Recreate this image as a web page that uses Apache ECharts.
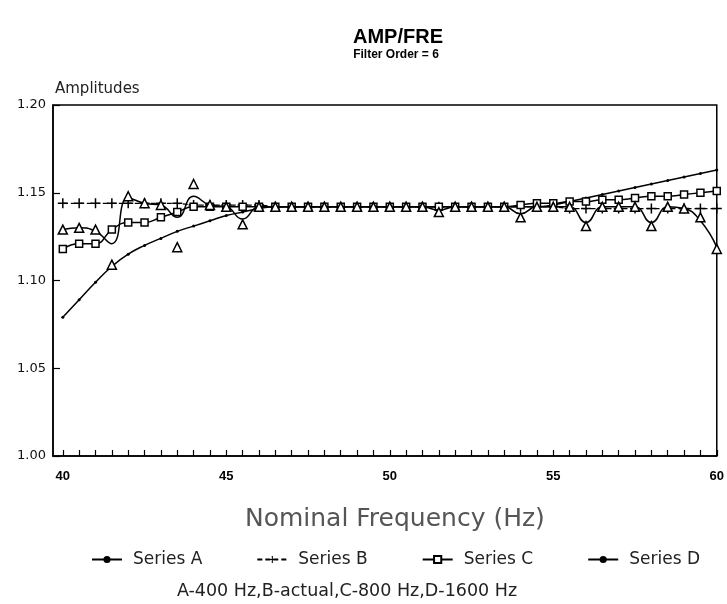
<!DOCTYPE html>
<html>
<head>
<meta charset="utf-8">
<script src="https://cdn.jsdelivr.net/npm/echarts@6/dist/echarts.min.js"></script>
<style>html,body{margin:0;padding:0;background:#fff;}#c{width:727px;height:604px;}</style>
</head>
<body>
<div id="c"></div>
<script>
// Frequencies (Hz)
const freq = [40,40.5,41,41.5,42,42.5,43,43.5,44,44.5,45,45.5,46,46.5,47,47.5,48,48.5,49,49.5,50,50.5,51,51.5,52,52.5,53,53.5,54,54.5,55,55.5,56,56.5,57,57.5,58,58.5,59,59.5,60];
// Series A – 400 Hz
const seriesA = [1.079,1.089,1.099,1.108,1.115,1.120,1.124,1.128,1.131,1.134,1.137,1.139,1.141,1.142,1.142,1.142,1.142,1.142,1.142,1.142,1.142,1.142,1.142,1.142,1.142,1.142,1.142,1.142,1.142,1.142,1.143,1.145,1.147,1.149,1.151,1.153,1.155,1.157,1.159,1.161,1.163];
// Series B – actual
const seriesB = [1.144,1.144,1.144,1.144,1.144,1.144,1.144,1.144,1.143,1.143,1.143,1.143,1.143,1.142,1.142,1.142,1.142,1.142,1.142,1.142,1.142,1.142,1.142,1.142,1.142,1.142,1.142,1.142,1.142,1.142,1.142,1.141,1.141,1.141,1.141,1.141,1.141,1.141,1.141,1.141,1.141];
// Series C – 800 Hz
const seriesC = [1.118,1.121,1.121,1.129,1.133,1.133,1.136,1.139,1.142,1.142,1.142,1.142,1.142,1.142,1.142,1.142,1.142,1.142,1.142,1.142,1.142,1.142,1.142,1.142,1.142,1.142,1.142,1.142,1.143,1.144,1.144,1.145,1.145,1.146,1.146,1.147,1.148,1.148,1.149,1.150,1.151];
// Series D – 1600 Hz: plotted markers (triangles)
const seriesD = [1.129,1.130,1.129,1.109,1.148,1.144,1.143,1.119,1.155,1.143,1.142,1.132,1.142,1.142,1.142,1.142,1.142,1.142,1.142,1.142,1.142,1.142,1.142,1.139,1.142,1.142,1.142,1.142,1.136,1.142,1.142,1.142,1.131,1.142,1.142,1.142,1.131,1.142,1.141,1.136,1.118];
// Series D – fitted curve drawn through the markers
const seriesDCurve = [1.129,1.130,1.128,1.121,1.147,1.144,1.143,1.136,1.148,1.143,1.142,1.135,1.142,1.142,1.142,1.142,1.142,1.142,1.142,1.142,1.142,1.142,1.142,1.140,1.142,1.142,1.142,1.142,1.138,1.142,1.142,1.142,1.133,1.142,1.142,1.142,1.133,1.142,1.141,1.134,1.119];
// Axis ticks / labels
const xLabelValues = [40,45,50,55,60];
const xTickValues = freq;
const seriesNames = ['Series A','Series B','Series C','Series D'];

const pair = (ys) => freq.map((f, i) => [f, ys[i]]);
const FONT = '"Liberation Sans", Arial, sans-serif';
const WIDE = '"DejaVu Sans", sans-serif';
const plusPath = 'path://M8.5,0H11.5V8.5H20V11.5H11.5V20H8.5V11.5H0V8.5H8.5Z';

const chart = echarts.init(document.getElementById('c'), null, {renderer: 'canvas'});
chart.setOption({
  animation: false,
  backgroundColor: '#fff',
  title: [
    {text: 'AMP/FRE', left: 393, top: 22, textAlign: 'center',
     textStyle: {fontFamily: FONT, fontSize: 20, fontWeight: 'bold', color: '#000'}},
    {text: 'Filter Order = 6', left: 391, top: 44, textAlign: 'center',
     textStyle: {fontFamily: FONT, fontSize: 12, fontWeight: 'bold', color: '#000'}},
    {text: 'A-400 Hz,B-actual,C-800 Hz,D-1600 Hz', left: 342, top: 577, textAlign: 'center',
     textStyle: {fontFamily: WIDE, fontSize: 17.5, fontWeight: 'normal', color: '#222'}}
  ],
  grid: {left: 53, right: 9, top: 105, bottom: 148, show: true, borderColor: '#000', borderWidth: 1.5, backgroundColor: 'transparent'},
  legend: {
    data: seriesNames, left: 86, top: 546, itemGap: 54, itemWidth: 30, itemHeight: 9,
    textStyle: {fontFamily: WIDE, fontSize: 17, color: '#222', padding: [0, 0, 0, 6]}
  },
  xAxis: {
    type: 'value', min: 39.7, max: 60,
    name: 'Nominal Frequency (Hz)', nameLocation: 'middle', nameGap: 51,
    nameTextStyle: {fontFamily: WIDE, fontSize: 25, color: '#555', padding: [0, 0, 0, 20]},
    axisLine: {show: true, lineStyle: {color: '#000', width: 1.5}},
    axisTick: {show: true, inside: true, length: 6, customValues: xTickValues, lineStyle: {color: '#000', width: 1.2}},
    axisLabel: {customValues: xLabelValues, fontFamily: FONT, fontSize: 13, fontWeight: 'bold', color: '#000', margin: 14},
    splitLine: {show: false}
  },
  yAxis: {
    type: 'value', min: 1.00, max: 1.20, interval: 0.05,
    name: 'Amplitudes', nameLocation: 'end', nameGap: 8,
    nameTextStyle: {fontFamily: WIDE, fontSize: 15, color: '#222', align: 'left', padding: [0, 0, 0, 2]},
    axisLine: {show: true, lineStyle: {color: '#000', width: 1.5}},
    axisTick: {show: true, inside: true, length: 7, lineStyle: {color: '#000', width: 1.2}},
    axisLabel: {formatter: v => v.toFixed(2), fontFamily: WIDE, fontSize: 13, color: '#111', margin: 7},
    splitLine: {show: false}
  },
  series: [
    {name: 'Series A', type: 'line', data: pair(seriesA), smooth: true,
     symbol: 'circle', symbolSize: 3, showAllSymbol: true,
     itemStyle: {color: '#000'}, lineStyle: {color: '#000', width: 1.5}, z: 2},
    {name: 'Series B', type: 'line', data: pair(seriesB), smooth: false,
     symbol: plusPath, symbolSize: 10, showAllSymbol: true,
     itemStyle: {color: '#000'}, lineStyle: {color: '#000', width: 1.3, type: [5, 3]}, z: 3},
    {name: 'Series C', type: 'line', data: pair(seriesC), smooth: 0.5,
     symbol: 'rect', symbolSize: 7, showAllSymbol: true,
     itemStyle: {color: '#fff', borderColor: '#000', borderWidth: 1.5}, lineStyle: {color: '#000', width: 1.5}, z: 4},
    {name: 'Series D', type: 'line', data: pair(seriesDCurve), smooth: 0.5,
     symbol: 'circle', symbolSize: 3, showSymbol: false,
     itemStyle: {color: '#000'}, lineStyle: {color: '#000', width: 1.5}, z: 5},
    {name: 'Series D', type: 'scatter', data: pair(seriesD),
     symbol: 'triangle', symbolSize: 9,
     itemStyle: {color: '#fff', borderColor: '#000', borderWidth: 1.5, opacity: 1}, z: 6}
  ]
});
</script>
</body>
</html>
